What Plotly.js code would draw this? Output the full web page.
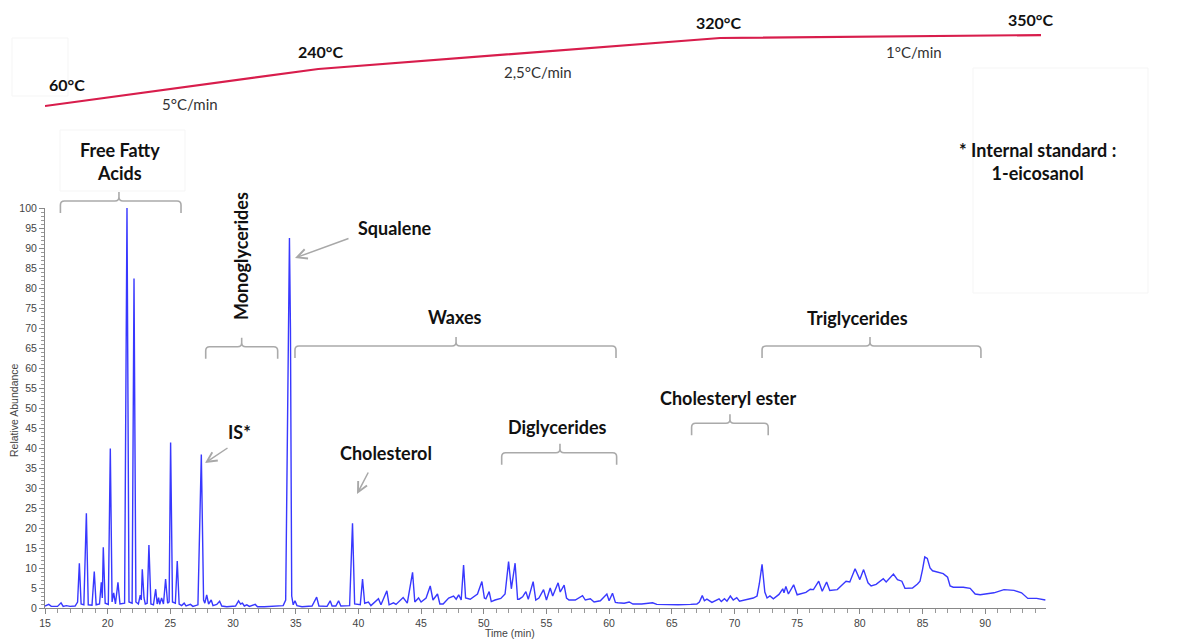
<!DOCTYPE html>
<html>
<head>
<meta charset="utf-8">
<script src="https://cdn.plot.ly/plotly-3.0.1.min.js"></script>
<style>html,body{margin:0;padding:0;background:#fff;}#chart{width:1204px;height:640px;}</style>
</head>
<body>
<div id="chart"></div>
<script>
// ---- Chromatogram (time in min, relative abundance in %) ----
const timeMin = [15.0,15.3,15.5,16.0,16.28,16.45,16.7,17.0,17.4,17.6,17.74,17.88,18.1,18.3,18.45,18.75,18.93,19.08,19.35,19.49,19.57,19.65,19.8,20.05,20.21,20.35,20.48,20.62,20.82,20.98,21.35,21.54,21.7,21.95,22.1,22.25,22.45,22.6,22.68,22.76,22.9,23.0,23.15,23.29,23.45,23.65,23.83,23.95,24.06,24.15,24.3,24.45,24.62,24.78,24.9,25.02,25.17,25.4,25.55,25.7,25.9,26.1,26.25,26.6,26.8,27.2,27.47,27.65,27.75,27.9,28.05,28.26,28.4,28.7,28.93,29.1,29.5,30.2,30.44,30.6,30.75,30.9,31.1,31.3,31.77,31.95,32.5,33.5,34.0,34.2,34.35,34.5,34.58,34.68,34.8,34.94,35.1,35.5,36.3,36.67,36.85,37.5,37.75,37.9,38.2,38.42,38.6,39.3,39.53,39.7,40.15,40.33,40.5,40.8,41.0,41.6,41.8,42.27,42.45,42.8,43.0,43.57,43.9,44.32,44.5,44.8,45.0,45.4,45.73,45.95,46.31,46.5,46.76,47.2,47.59,47.8,48.0,48.2,48.39,48.55,48.92,49.2,49.5,49.85,50.05,50.17,50.43,50.6,50.9,51.36,51.7,51.98,52.2,52.5,52.7,52.82,53.1,53.36,53.55,53.94,54.15,54.4,54.77,55.0,55.3,55.5,55.93,56.1,56.41,56.6,56.8,57.3,57.88,58.1,58.5,58.8,59.3,59.82,60.0,60.27,60.5,60.7,61.2,61.6,61.9,62.6,63.1,63.47,63.8,64.5,65.5,66.5,67.0,67.2,67.43,67.6,67.8,68.2,68.77,68.95,69.2,69.4,69.67,69.9,70.18,70.4,71.05,71.5,71.8,71.98,72.2,72.42,72.6,72.83,73.1,73.55,73.85,73.95,74.1,74.3,74.72,75.0,75.7,76.05,76.3,76.72,77.0,77.35,77.6,78.2,78.6,78.9,79.2,79.62,80.0,80.3,80.65,80.9,81.3,81.87,82.1,82.68,83.0,83.35,83.6,84.2,84.6,84.8,85.0,85.18,85.38,85.6,85.8,86.65,87.0,87.2,87.45,88.25,88.8,89.2,89.6,90.7,91.5,92.3,92.9,93.4,94.1,94.8];
const abundance = [0.5,0.9,0.4,0.4,1.3,0.4,0.6,0.4,0.5,1.5,11.2,1.0,0.8,23.7,0.8,0.7,9.1,0.8,1.0,6.4,2.5,15.2,1.2,0.9,39.9,1.5,3.8,1.0,6.4,1.0,1.2,100,1.5,1.2,82.4,1.5,1.0,3.2,2.0,9.7,2.5,1.0,1.2,15.75,1.0,0.8,4.7,1.0,2.6,0.9,2.5,1.0,7.25,1.2,1.5,41.4,1.5,1.2,11.75,1.0,0.6,1.2,0.5,0.9,0.4,0.8,38.4,2.0,1.2,3.25,1.0,2.0,0.6,0.9,1.7,0.5,0.3,0.5,1.8,1.0,1.2,0.5,0.8,0.4,0.9,0.3,0.3,0.5,0.6,2.0,48,92.5,70,3,0.8,1.8,0.6,0.3,0.5,2.7,0.5,0.4,1.8,0.5,0.5,1.8,0.5,0.6,21.2,1.0,0.8,7.25,1.2,1.5,0.6,2.3,0.8,4.3,0.8,1.3,0.9,2.6,1.2,8.9,1.5,2.5,1.5,2.5,5.5,2.0,3.5,1.0,1.0,2.5,3.0,2.2,3.3,2.0,10.75,2.5,2.2,2.9,3.5,6.6,2.5,2.3,4.1,1.6,2.0,2.4,3.5,11.6,4.8,11.2,2.2,2.2,2.8,4.1,2.2,6.6,2.0,2.5,4.6,2.0,5.0,3.0,6.3,4.0,5.7,2.5,2.0,2.0,3.1,2.0,2.3,1.5,1.8,3.5,1.8,3.7,1.4,1.3,1.2,1.5,1.0,1.0,1.2,1.3,0.9,0.8,0.8,0.9,1.0,1.5,3.1,1.8,2.2,1.4,2.3,1.6,2.3,1.7,3.0,2.0,2.6,1.7,2.2,2.5,3.0,6,10.9,4,2.5,3.0,2.3,3.4,4.8,3.8,5.4,3.5,5.8,3.3,3.9,4.7,4.6,6.7,4.2,6.5,4.4,4.6,5.8,6.7,6.5,9.8,7.1,9.6,6.3,5.5,5.9,7.3,6.5,8.5,7.1,6.7,4.9,5.0,6.0,6.7,9.6,12.8,12.4,10,9.3,8.6,7.7,5.5,5.2,5.2,4.9,3.5,3.3,3.8,4.6,4.4,3.8,2.4,2.4,2.0];

// ---- Oven temperature programme (schematic) ----
const profileTemps = [60, 240, 320, 350];
const profileTimes = [15, 36.8, 68.85, 94.45];     // drawn positions along the time axis
const profileLevel = [0.2075, 0.484, 0.716, 0.738]; // drawn heights of the schematic
const rateLabels = ['5°C/min', '2,5°C/min', '1°C/min'];

// ---- Compound-class brackets ----
const groupNames = ['Free Fatty<br>Acids', 'Monoglycerides', 'Waxes', 'Diglycerides', 'Cholesteryl ester', 'Triglycerides'];
const groupStart = [16.23, 27.82, 34.94, 51.43, 66.58, 72.2];
const groupEnd   = [25.85, 33.56, 60.55, 60.6, 72.69, 89.66];
const groupMid   = [20.9, 30.69, 47.79, 56.08, 69.64, 80.81];
const groupLevel = [101.75, 65.3, 65.5, 38.8, 46.2, 65.5];

// ---- Geometry helpers ----
const W = 1204, H = 640, ML = 45, MR = 158, MT = 0, MB = 32;
const PW = W - ML - MR, PH = H - MT - MB;
const X0 = 15, X1 = 94.85, Y1 = 100, YDOM = 400 / PH;
const tx = t => ML + (t - X0) / (X1 - X0) * PW;        // time -> pixel
const vy = v => MT + PH - v / Y1 * YDOM * PH;          // abundance -> pixel
const px = x => (x - ML) / PW;                          // pixel -> paper
const py = y => (MT + PH - y) / PH;

const BOLD = {family: 'Lato, "Open Sans", sans-serif', size: 18, color: '#111'};
const TEMPF = {family: 'Lato, "Open Sans", sans-serif', size: 16, color: '#111'};
const RATEF = {family: 'Lato, "Open Sans", sans-serif', size: 15, color: '#333'};

const annotations = [];
function label(text, x, y, font, extra) {
  annotations.push(Object.assign({text: text, xref: 'paper', yref: 'paper', x: px(x), y: py(y),
    xanchor: 'center', yanchor: 'middle', showarrow: false, font: font}, extra || {}));
}

// temperature labels attached to profile points
const tempLabelPix = [[67, 84], [320, 52], [718, 23], [1030, 19]];
profileTemps.forEach((T, i) => label('<b>' + T + '°C</b>', tempLabelPix[i][0], tempLabelPix[i][1], TEMPF));
const rateLabelPix = [[190, 104], [538, 72], [914, 52]];
rateLabels.forEach((r, i) => label(r, rateLabelPix[i][0], rateLabelPix[i][1], RATEF));

// group labels
const groupLabelPix = [[120, 161], [241, 256], [455, 317], [557, 427], [728, 398], [857, 318]];
groupNames.forEach((g, i) => label('<b>' + g + '</b>', groupLabelPix[i][0], groupLabelPix[i][1], BOLD,
  g === 'Monoglycerides' ? {textangle: -90} : {}));

label('<b>* Internal standard :<br>1-eicosanol</b>', 1037, 161, BOLD);
label('<b>Squalene</b>', 395, 228, BOLD);
label('<b>IS*</b>', 239, 432, BOLD);
label('<b>Cholesterol</b>', 386, 453, BOLD);

// arrows (head, tail in pixels)
const arrows = [[[295, 258], [350, 238]], [[205, 463], [229, 447]], [[357, 494], [369, 471]]];
arrows.forEach(a => annotations.push({text: '', xref: 'paper', yref: 'paper', x: px(a[0][0]), y: py(a[0][1]),
  ax: a[1][0] - a[0][0], ay: a[1][1] - a[0][1], showarrow: true, arrowhead: 5, arrowsize: 1.3,
  arrowwidth: 1.5, arrowcolor: '#a8a8a8', standoff: 0}));

// axis titles
label('Time (min)', 510, 633, {family: 'Liberation Sans, Arial, sans-serif', size: 10.5, color: '#444'});
label('Relative Abundance', 14, 410, {family: 'Liberation Sans, Arial, sans-serif', size: 10.5, color: '#444'}, {textangle: -90});

// brackets as paper-referenced paths built from group data
const shapes = [];
groupStart.forEach((s, i) => {
  const x0 = tx(s), x1 = tx(groupEnd[i]), xm = tx(groupMid[i]), y = vy(groupLevel[i]);
  const d = 12, n = 9, r = 4;
  const P = (x, yy) => px(x).toFixed(5) + ',' + py(yy).toFixed(5);
  const path = 'M' + P(x0, y + d) + ' L' + P(x0, y + r) + ' Q' + P(x0, y) + ' ' + P(x0 + r, y) +
    ' L' + P(xm - r, y) + ' Q' + P(xm, y) + ' ' + P(xm, y - r) + ' L' + P(xm, y - n) +
    ' M' + P(xm, y - r) + ' Q' + P(xm, y) + ' ' + P(xm + r, y) +
    ' L' + P(x1 - r, y) + ' Q' + P(x1, y) + ' ' + P(x1, y + r) + ' L' + P(x1, y + d);
  shapes.push({type: 'path', xref: 'paper', yref: 'paper', path: path, line: {color: '#aaaaaa', width: 1.6}});
});
// very faint text-box outlines from the original figure
[[60, 130, 185, 191], [973, 68, 1148, 293], [12, 38, 68, 96]].forEach(b =>
  shapes.push({type: 'rect', xref: 'paper', yref: 'paper', x0: px(b[0]), y0: py(b[1]), x1: px(b[2]), y1: py(b[3]),
    line: {color: '#f5f5f5', width: 1}, layer: 'below'}));

const traces = [
  {x: timeMin, y: abundance, type: 'scatter', mode: 'lines', line: {color: '#3838ff', width: 1.4}, hoverinfo: 'x+y'},
  {x: profileTimes, y: profileLevel, xaxis: 'x', yaxis: 'y2', type: 'scatter', mode: 'lines',
   line: {color: '#d81d4c', width: 2.2}, cliponaxis: false}
];

const tickFont = {family: 'Liberation Sans, Arial, sans-serif', size: 10.5, color: '#444'};
const layout = {
  width: W, height: H, margin: {l: ML, r: MR, t: MT, b: MB}, showlegend: false,
  paper_bgcolor: '#fff', plot_bgcolor: 'rgba(0,0,0,0)',
  xaxis: {range: [X0, X1], tick0: 15, dtick: 5, ticks: 'outside', ticklen: 5, tickcolor: '#888',
    showline: true, linecolor: '#888', linewidth: 1, showgrid: false, zeroline: false, tickfont: tickFont,
    minor: {dtick: 1, ticks: 'outside', ticklen: 4, tickcolor: '#999', showgrid: false}},
  yaxis: {domain: [0, YDOM], range: [0, Y1], tick0: 0, dtick: 5, ticks: 'outside', ticklen: 5, tickcolor: '#888',
    showline: true, linecolor: '#888', linewidth: 1, showgrid: false, zeroline: false, tickfont: tickFont,
    minor: {dtick: 1, ticks: 'outside', ticklen: 3, tickcolor: '#999', showgrid: false}},
  yaxis2: {domain: [0.78, 1], range: [0, 1], anchor: 'x', visible: false, showgrid: false, zeroline: false},
  annotations: annotations, shapes: shapes
};
Plotly.newPlot('chart', traces, layout, {displayModeBar: false, staticPlot: true});
</script>
</body>
</html>
